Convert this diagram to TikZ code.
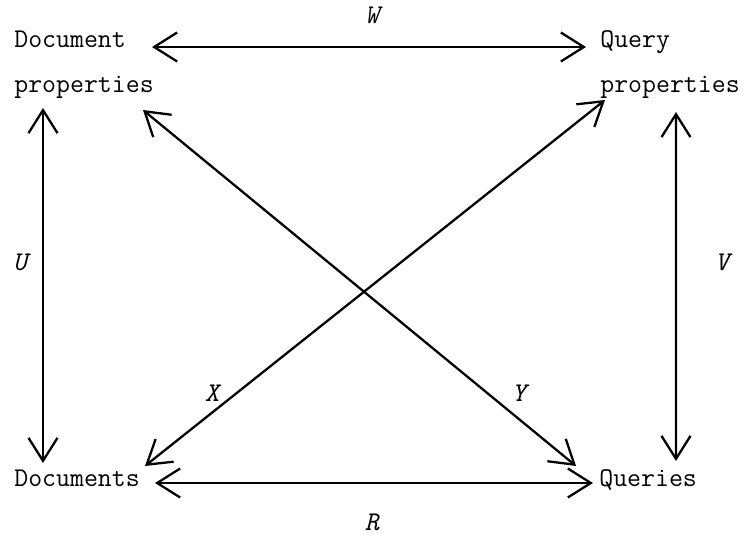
\documentclass[tikz,border=0pt]{standalone}
\usepackage{tikz}
\usetikzlibrary{arrows.meta}

\begin{document}
\begin{tikzpicture}[font=\fontsize{15.4}{18}\selectfont\ttfamily,
  rel/.style={draw, line width=1.3pt, {Straight Barb[length=0.46cm, width=0.58cm]}-{Straight Barb[length=0.46cm, width=0.58cm]}},
  term/.style={anchor=base west, inner sep=0pt},
  lab/.style={font=\fontsize{15.4}{18}\selectfont\ttfamily\itshape, inner sep=0pt}]
  \useasboundingbox (0, 0) rectangle (14.88, 10.70);

  \node[term] (doc) at (0.28, 9.74) {Document};
  \node[term] (docprop) at (0.28, 8.84) {properties};
  \node[term] (qry) at (12.0, 9.74) {Query};
  \node[term] (qryprop) at (12.0, 8.84) {properties};
  \node[term] (docs) at (0.28, 0.96) {Documents};
  \node[term] (qrys) at (11.98, 0.96) {Queries};

  \draw[rel] ([shift={(2.76, 0.02)}]doc.base west) -- ([shift={(-0.28, 0.02)}]qry.base west);
  \draw[rel] ([shift={(2.82, 0.08)}]docs.base west) -- ([shift={(-0.12, 0.08)}]qrys.base west);
  \draw[rel] ([shift={(0.58, -0.30)}]docprop.base west) -- ([shift={(0.58, 0.48)}]docs.base west);
  \draw[rel] ([shift={(1.52, -0.38)}]qryprop.base west) -- ([shift={(1.54, 0.52)}]qrys.base west);
  \draw[rel] ([shift={(2.58, -0.34)}]docprop.base west) -- ([shift={(-0.46, 0.42)}]qrys.base west);
  \draw[rel] ([shift={(2.62, 0.42)}]docs.base west) -- ([shift={(0.10, -0.14)}]qryprop.base west);

  \node[lab] (w) at (7.44, 10.40) {W};
  \node[lab] (r) at (7.44, 0.26) {R};
  \node[lab] (u) at (0.40, 5.46) {U};
  \node[lab] (v) at (14.44, 5.46) {V};
  \node[lab] (x) at (4.24, 2.84) {X};
  \node[lab] (y) at (10.38, 2.84) {Y};
\end{tikzpicture}
\end{document}
